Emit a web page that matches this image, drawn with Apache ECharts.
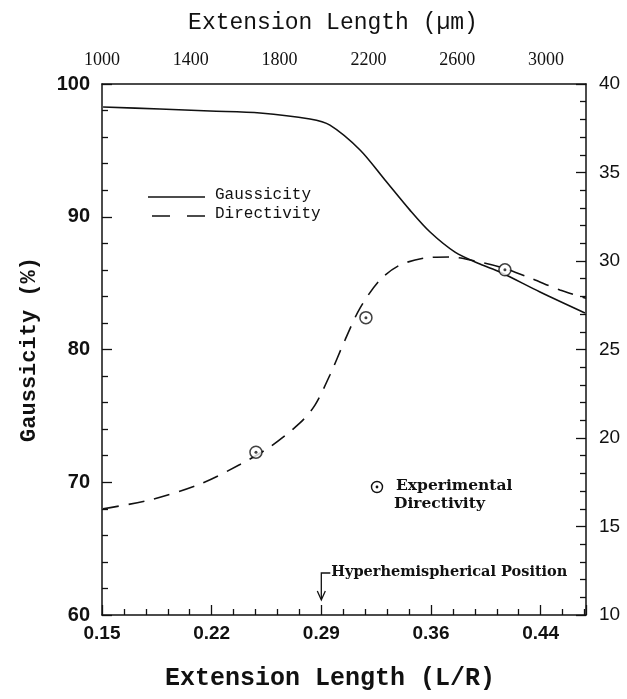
<!DOCTYPE html>
<html><head><meta charset="utf-8">
<script src="https://cdn.jsdelivr.net/npm/echarts@6/dist/echarts.min.js"></script>
<style>html,body{margin:0;padding:0;background:#fff}#c{width:627px;height:699px}</style>
</head><body><div id="c"></div>
<script>
// Gaussicity (%) vs extension length L/R (left axis)
const gaussL = [0.1507, 0.1883, 0.2214, 0.2545, 0.2875, 0.3007, 0.3206, 0.3371, 0.3536, 0.3669, 0.3834, 0.3999, 0.4131, 0.4396, 0.4693];
const gaussV = [98.27, 98.12, 97.97, 97.82, 97.36, 96.9, 95.03, 92.77, 90.5, 88.85, 87.34, 86.44, 85.84, 84.33, 82.75];
// Directivity vs L/R (right axis)
const dirL = [0.1507, 0.1817, 0.2148, 0.2412, 0.2611, 0.2809, 0.2908, 0.3007, 0.3107, 0.3206, 0.3338, 0.3470, 0.3636, 0.3801, 0.3966, 0.4131, 0.4330, 0.4528, 0.4700];
const dirV = [16.0, 16.5, 17.4, 18.5, 19.5, 20.85, 21.86, 23.56, 25.54, 27.34, 28.93, 29.77, 30.17, 30.23, 30.0, 29.66, 29.04, 28.36, 27.9];
// Experimental directivity points
const expL = [0.2518, 0.3245, 0.4164];
const expV = [19.2, 26.8, 29.5];
// Tick labels
const xTickValues = [0.15, 0.2225, 0.295, 0.3675, 0.44];
const xTickLabels = ['0.15', '0.22', '0.29', '0.36', '0.44'];
const topTickValues = [1000, 1400, 1800, 2200, 2600, 3000];
const topTickLabels = ['1000', '1400', '1800', '2200', '2600', '3000'];
const hyperPosition = 0.295;

const zip = (a, b) => a.map((v, i) => [v, b[i]]);
const INK = '#111';
const chart = echarts.init(document.getElementById('c'), null, {renderer: 'canvas'});

function pickLabel(vals, labs, v) {
  for (let i = 0; i < vals.length; i++) if (Math.abs(vals[i] - v) < 1e-6 * Math.max(1, Math.abs(v))) return labs[i];
  return '';
}

const option = {
  backgroundColor: '#fff',
  animation: false,
  grid: {left: 102, right: 41, top: 84, bottom: 84, containLabel: false},
  xAxis: [{
    type: 'value', position: 'bottom', min: 0.15, max: 0.47, interval: 0.0725,
    name: 'Extension Length (L/R)', nameLocation: 'middle', nameGap: 51,
    nameTextStyle: {fontFamily: 'Liberation Mono', fontWeight: 'bold', fontSize: 25, color: INK, padding: [0, 28, 0, 0]},
    axisLine: {show: true, onZero: false, lineStyle: {color: INK, width: 1.5}},
    axisTick: {show: true, inside: true, length: 10, lineStyle: {color: INK, width: 1.3}},
    minorTick: {show: true, splitNumber: 5, length: 6, lineStyle: {color: INK, width: 1.3}},
    splitLine: {show: false},
    axisLabel: {margin: 9, fontFamily: 'Liberation Sans', fontWeight: 'bold', fontSize: 19, color: INK,
      showMaxLabel: false, formatter: v => pickLabel(xTickValues, xTickLabels, v)}
  }, {
    type: 'value', position: 'top', min: 1000, max: 3180, interval: 400,
    name: 'Extension Length (\u00b5m)', nameLocation: 'middle', nameGap: 50,
    nameTextStyle: {fontFamily: 'Liberation Mono', fontSize: 23, color: INK, padding: [0, 22, 0, 0]},
    axisLine: {show: true, onZero: false, lineStyle: {color: INK, width: 1.5}},
    axisTick: {show: false},
    splitLine: {show: false},
    axisLabel: {margin: 15, fontFamily: 'Liberation Serif', fontSize: 18, color: INK,
      showMaxLabel: false, formatter: v => pickLabel(topTickValues, topTickLabels, v)}
  }],
  yAxis: [{
    type: 'value', position: 'left', min: 60, max: 100, interval: 10,
    name: 'Gaussicity (%)', nameLocation: 'middle', nameGap: 62, nameRotate: 90,
    nameTextStyle: {fontFamily: 'Liberation Mono', fontWeight: 'bold', fontSize: 22, color: INK},
    axisLine: {show: true, onZero: false, lineStyle: {color: INK, width: 1.5}},
    axisTick: {show: true, inside: true, length: 10, lineStyle: {color: INK, width: 1.3}},
    minorTick: {show: true, splitNumber: 5, length: 6, lineStyle: {color: INK, width: 1.3}},
    splitLine: {show: false},
    axisLabel: {margin: 12, fontFamily: 'Liberation Sans', fontWeight: 'bold', fontSize: 20, color: INK}
  }, {
    type: 'value', position: 'right', min: 10, max: 40, interval: 5,
    axisLine: {show: true, onZero: false, lineStyle: {color: INK, width: 1.5}},
    axisTick: {show: true, inside: true, length: 10, lineStyle: {color: INK, width: 1.3}},
    minorTick: {show: true, splitNumber: 5, length: 6, lineStyle: {color: INK, width: 1.3}},
    splitLine: {show: false},
    axisLabel: {margin: 13, fontFamily: 'Liberation Sans', fontSize: 19, color: INK}
  }],
  series: [{
    name: 'Gaussicity', type: 'line', xAxisIndex: 0, yAxisIndex: 0,
    data: zip(gaussL, gaussV), smooth: 0.3, showSymbol: false,
    lineStyle: {color: INK, width: 1.6}
  }, {
    name: 'Directivity', type: 'line', xAxisIndex: 0, yAxisIndex: 1,
    data: zip(dirL, dirV), smooth: 0.3, showSymbol: false,
    lineStyle: {color: INK, width: 1.6, type: [16, 10]}
  }, {
    name: 'Experimental Directivity', type: 'scatter', xAxisIndex: 0, yAxisIndex: 1,
    data: zip(expL, expV), symbol: 'circle', symbolSize: 12,
    itemStyle: {color: '#fff', borderColor: INK, borderWidth: 1.5}, z: 5
  }, {
    name: 'Experimental Directivity dot', type: 'scatter', xAxisIndex: 0, yAxisIndex: 1,
    data: zip(expL, expV), symbol: 'circle', symbolSize: 3,
    itemStyle: {color: INK}, z: 6
  }]
};
chart.setOption(option);

const hx = chart.convertToPixel({xAxisIndex: 0}, hyperPosition);
const yBottom = chart.convertToPixel({yAxisIndex: 0}, 60);
chart.setOption({
  graphic: [
    // legend
    {type: 'line', shape: {x1: 148, y1: 197, x2: 205, y2: 197}, style: {stroke: INK, lineWidth: 1.6}},
    {type: 'text', left: 215, top: 187, style: {text: 'Gaussicity', font: '16px "Liberation Mono"', fill: INK}},
    {type: 'line', shape: {x1: 152, y1: 216, x2: 205, y2: 216}, style: {stroke: INK, lineWidth: 1.6, lineDash: [18, 17]}},
    {type: 'text', left: 215, top: 206, style: {text: 'Directivity', font: '16px "Liberation Mono"', fill: INK}},
    // experimental note
    {type: 'circle', shape: {cx: 377, cy: 487, r: 5.5}, style: {fill: '#fff', stroke: INK, lineWidth: 1.4}},
    {type: 'circle', shape: {cx: 377, cy: 487, r: 1.4}, style: {fill: INK}},
    {type: 'text', left: 396, top: 478, style: {text: 'Experimental', font: 'bold 15.5px "DejaVu Serif"', fill: INK}},
    {type: 'text', left: 394, top: 496, style: {text: 'Directivity', font: 'bold 15.5px "DejaVu Serif"', fill: INK}},
    // hyperhemispherical position marker
    {type: 'polyline', shape: {points: [[hx + 9, yBottom - 42], [hx, yBottom - 42], [hx, yBottom - 16]]}, style: {stroke: INK, lineWidth: 1.3, fill: null}},
    {type: 'polyline', shape: {points: [[hx - 4, yBottom - 24], [hx, yBottom - 15], [hx + 4, yBottom - 24]]}, style: {stroke: INK, lineWidth: 1.3, fill: null}},
    {type: 'text', left: hx + 10, top: yBottom - 50, style: {text: 'Hyperhemispherical Position', font: 'bold 14.5px "DejaVu Serif"', fill: INK}}
  ]
});
</script></body></html>
